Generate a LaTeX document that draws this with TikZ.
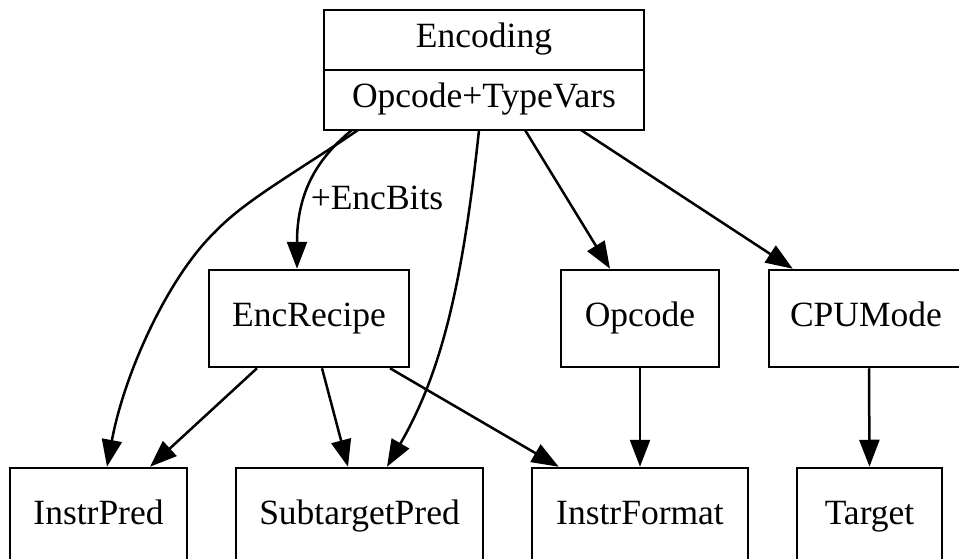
\documentclass[tikz,border=0pt]{standalone}
\usepackage{fontspec}
\setmainfont{Liberation Serif}
\usetikzlibrary{arrows.meta}

\begin{document}
\begin{tikzpicture}[
    x=1pt, y=-1pt,
    block/.style={rectangle, draw, line width=2.5pt, inner sep=0pt, align=center,
        minimum height=97pt, text height=25pt, text depth=9pt,
        font=\fontsize{35.5}{40}\selectfont},
    field/.style={block, outer sep=0pt, minimum width=320pt, minimum height=60pt},
    edgelabel/.style={inner sep=0pt, text height=25pt, text depth=9pt,
        font=\fontsize{35.5}{40}\selectfont},
    arrow/.style={-{Triangle[length=27pt, width=20pt]}, line width=2.5pt}
]
\useasboundingbox (0,0) rectangle (959,559);

% Top record
\node[field] (Enc) at (484,40) {Encoding};
\node[field, anchor=north] (EncVars) at (Enc.south) {Opcode+TypeVars};

% Middle row
\node[block, minimum width=200pt] (EncRecipe) at (309,318.5) {EncRecipe};
\node[block, minimum width=158pt] (Opcode) at (640,318.5) {Opcode};
\node[block, minimum width=194pt] (CPUMode) at (866,318.5) {CPUMode};

% Bottom row
\node[block, minimum width=177pt] (InstrPred) at (98.5,516.5) {InstrPred};
\node[block, minimum width=247pt] (SubtargetPred) at (359.5,516.5) {SubtargetPred};
\node[block, minimum width=216pt] (InstrFormat) at (640,516.5) {InstrFormat};
\node[block, minimum width=145pt] (Target) at (869.5,516.5) {Target};

% Edge label
\node[edgelabel] (EncBits) at (377,201) {+EncBits};

% Edges
\draw[arrow] ([xshift=34]EncVars.south west) .. controls (300,170) and (245,200) .. (215,232)
    .. controls (170,275) and (125,370) .. ([xshift=8.5]InstrPred.north);
\draw[arrow] ([xshift=28]EncVars.south west) .. controls (315,160) and (297,195) .. ([xshift=-12]EncRecipe.north);
\draw[arrow] ([xshift=155]EncVars.south west) .. controls (462,290) and (440,375) .. ([xshift=27.5]SubtargetPred.north);
\draw[arrow] ([xshift=201]EncVars.south west) -- ([xshift=-30]Opcode.north);
\draw[arrow] ([xshift=257]EncVars.south west) -- ([xshift=25]CPUMode.north west);
\draw[arrow] ([xshift=-52]EncRecipe.south) -- ([xshift=51.5]InstrPred.north);
\draw[arrow] ([xshift=13]EncRecipe.south) -- ([xshift=-11.5]SubtargetPred.north);
\draw[arrow] ([xshift=81]EncRecipe.south) -- ([xshift=28]InstrFormat.north west);
\draw[arrow] (Opcode) -- (InstrFormat);
\draw[arrow] ([xshift=3]CPUMode.south) -- (Target.north);

\end{tikzpicture}
\end{document}
